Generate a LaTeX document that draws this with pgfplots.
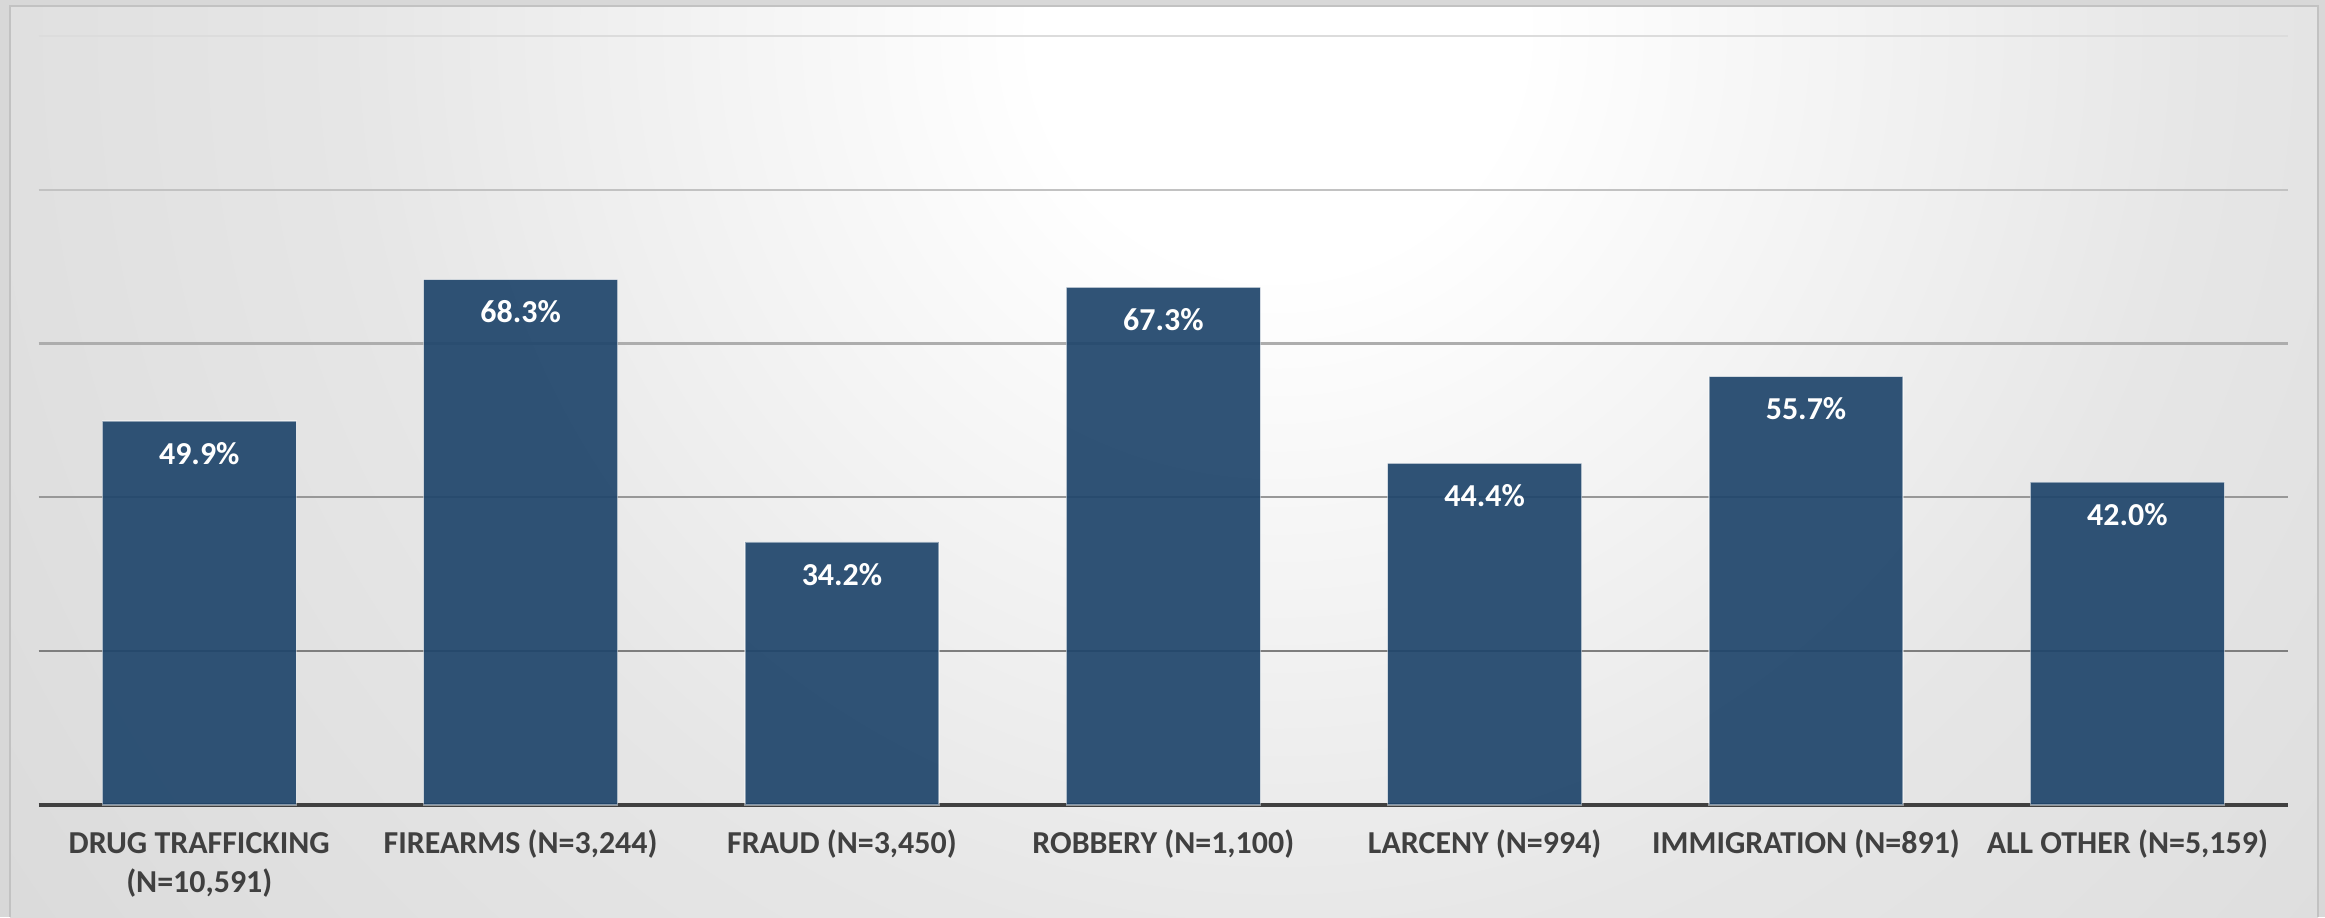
\documentclass[border=0pt]{standalone}
\usepackage{fontspec}
\setmainfont{Carlito}
\usepackage{pgfplots}
\pgfplotsset{compat=1.18}
\definecolor{barblue}{HTML}{1F456B}
\definecolor{lab}{HTML}{404040}
\definecolor{axisdark}{HTML}{404040}
\definecolor{outerbg}{HTML}{D8D8D8}
\definecolor{panelline}{HTML}{C2C2C2}
\definecolor{bgA}{HTML}{E6E6E6}
\definecolor{bgB}{HTML}{D6D6D6}
\definecolor{bgC}{HTML}{CBCBCB}
\definecolor{bgD}{HTML}{C4C4C4}
\definecolor{gA}{HTML}{7E7E7E}
\definecolor{gB}{HTML}{989898}
\definecolor{gC}{HTML}{ADADAD}
\definecolor{gD}{HTML}{C2C2C2}
\definecolor{gE}{HTML}{DCDCDC}
\pgfdeclareradialshading{bgshade}{\pgfpoint{0bp}{0bp}}{color(0bp)=(white); color(3.1bp)=(white); color(12bp)=(bgA); color(23.3bp)=(bgB); color(32.1bp)=(bgC); color(41.1bp)=(bgD); color(50bp)=(bgD)}
\begin{document}
\begin{tikzpicture}[x=1pt,y=1pt]
\fill[outerbg] (0,0) rectangle (837,330.12);
\begin{scope}
\clip (3.6,0) rectangle (834.5,327.96);
\shade[shading=bgshade] (460,319.3) circle (700);
\end{scope}
\draw[color=panelline, line width=0.6pt] (3.6,0) -- (3.6,327.96) -- (834.5,327.96) -- (834.5,0);
\begin{axis}[
  at={(13.9pt,40.32pt)}, anchor=south west,
  scale only axis, width=809.8pt, height=276.9pt,
  xmin=-0.5, xmax=6.5, ymin=0, ymax=100,
  axis y line=none, axis x line=bottom,
  x axis line style={-, draw=axisdark, line width=1.3pt},
  xtick=data,
  xticklabels={{\begin{tabular}[t]{@{}c@{}}DRUG TRAFFICKING\\(N=10,591)\end{tabular}},{FIREARMS (N=3,244)},{FRAUD (N=3,450)},{ROBBERY (N=1,100)},{LARCENY (N=994)},{IMMIGRATION (N=891)},{ALL OTHER (N=5,159)}},
  xtick style={draw=none}, major tick length=0pt,
  xticklabel style={font=\fontsize{11.5}{13.8}\selectfont\bfseries, text=lab, anchor=base, yshift=-17.6pt, inner sep=0pt},
  ytick=\empty,
  ybar, bar width=69.8pt,
  /pgf/number format/assume math mode=true,
  nodes near coords={\pgfmathprintnumber[fixed,fixed zerofill,precision=1]{\pgfplotspointmeta}\%},
  every node near coord/.append style={font=\fontsize{11.5}{13.8}\selectfont\bfseries, text=white, text opacity=1, anchor=base, yshift=-15.5pt, inner sep=0pt},
  clip=false,
]
\draw[gA, line width=0.8pt] (axis cs:-0.5,20) -- (axis cs:6.5,20);
\draw[gB, line width=0.8pt] (axis cs:-0.5,40) -- (axis cs:6.5,40);
\draw[gC, line width=0.8pt] (axis cs:-0.5,60) -- (axis cs:6.5,60);
\draw[gD, line width=0.8pt] (axis cs:-0.5,80) -- (axis cs:6.5,80);
\draw[gE, line width=0.8pt] (axis cs:-0.5,100) -- (axis cs:6.5,100);
\addplot[fill=barblue, fill opacity=0.92, draw=white, draw opacity=0.45, line width=0.5pt] coordinates {(0,49.9) (1,68.3) (2,34.2) (3,67.3) (4,44.4) (5,55.7) (6,42.0)};
\end{axis}
\pgfresetboundingbox
\useasboundingbox (0,0) rectangle (837,330.12);
\end{tikzpicture}
\end{document}
